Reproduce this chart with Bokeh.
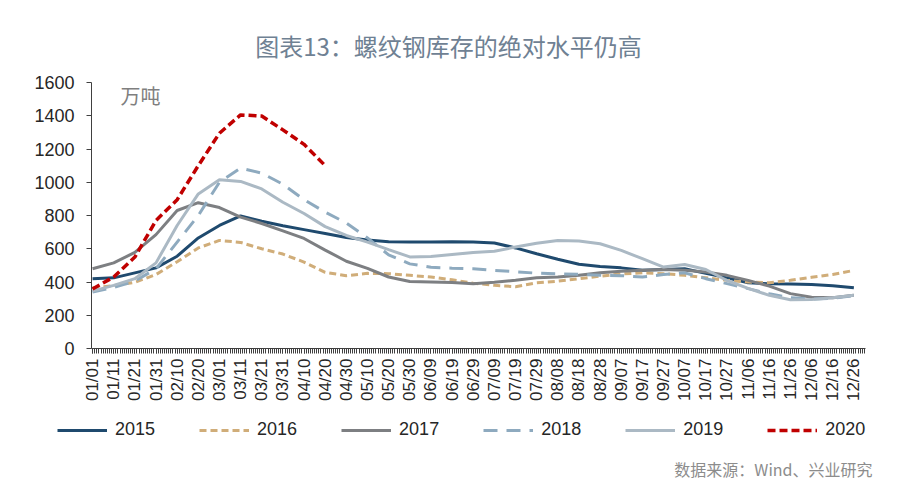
import math
from bokeh.plotting import figure
from bokeh.models import Range1d, FixedTicker, Label, Legend, LegendItem
from bokeh.embed import file_html
from bokeh.resources import INLINE

# x positions: day of year (leap-year calendar), labels every 10 days
days = list(range(0, 361, 10))
tick_labels = ["01/01", "01/11", "01/21", "01/31", "02/10", "02/20", "03/01", "03/11",
               "03/21", "03/31", "04/10", "04/20", "04/30", "05/10", "05/20", "05/30",
               "06/09", "06/19", "06/29", "07/09", "07/19", "07/29", "08/08", "08/18",
               "08/28", "09/07", "09/17", "09/27", "10/07", "10/17", "10/27", "11/06",
               "11/16", "11/26", "12/06", "12/16", "12/26"]

s2015 = [420, 425, 455, 485, 555, 665, 740, 798, 765, 738, 715, 692, 668, 652, 642, 640,
         640, 642, 640, 635, 605, 570, 537, 507, 493, 485, 470, 475, 480, 452, 425, 395,
         390, 388, 385, 378, 365]
s2016 = [365, 378, 398, 445, 522, 605, 650, 638, 600, 568, 520, 458, 438, 452, 450, 440,
         430, 413, 393, 380, 372, 395, 405, 420, 435, 448, 455, 450, 440, 425, 410, 400,
         395, 410, 428, 445, 470]
s2017 = [480, 515, 578, 685, 830, 877, 848, 790, 752, 708, 662, 592, 525, 482, 430, 403,
         400, 397, 390, 399, 410, 425, 430, 440, 455, 465, 470, 475, 470, 460, 440, 410,
         375, 330, 308, 305, 320]
s2018 = [340, 368, 405, 480, 640, 800, 1000, 1085, 1055, 988, 895, 820, 755, 665, 563, 509,
         489, 483, 480, 470, 462, 453, 449, 446, 440, 438, 430, 445, 455, 420, 390, 360,
         330, 305, 298, 302, 318]
s2019 = [345, 380, 420, 515, 740, 930, 1015, 1005, 960, 880, 812, 733, 680, 640, 595, 551,
         553, 565, 577, 585, 610, 633, 650, 646, 630, 590, 540, 490, 505, 475, 409, 362,
         320, 293, 295, 305, 320]
s2020 = [358, 430, 550, 770, 895, 1100, 1295, 1405, 1398, 1315, 1228, 1100]

years = ["2015", "2016", "2017", "2018", "2019", "2020"]
series = [s2015, s2016, s2017, s2018, s2019, s2020]
colors = ["#1f4a6e", "#d0ad79", "#7d7f82", "#8eaabf", "#abb9c4", "#c00000"]
dashes = ["solid", "7 4", "solid", "14 9", "solid", "8 4"]
widths = [3, 3, 3, 3, 3, 3.5]

y_ticks = list(range(0, 1601, 200))

W, H = 900, 493
# plot area in page pixels: x 91..865 (days -0.5..365.5), y 82..348 (1600..0)
px_day = (865 - 91) / 366.0
px_val = (348 - 82) / 1600.0
x0 = -0.5 - 91 / px_day
x1 = 365.5 + (W - 865) / px_day
y1 = 1600 + 82 / px_val
y0 = -(H - 348) / px_val

p = figure(width=W, height=H, output_backend="svg", toolbar_location=None,
           x_range=Range1d(x0, x1), y_range=Range1d(y0, y1),
           min_border_left=0, min_border_right=0, min_border_top=0, min_border_bottom=0)
p.xgrid.visible = False
p.ygrid.visible = False
p.outline_line_color = None
p.background_fill_color = "white"
p.border_fill_color = "white"

axis_color = "#404040"
p.xaxis.fixed_location = 0
p.xaxis.bounds = (-0.5, 365.5)
p.xaxis.ticker = FixedTicker(ticks=days, minor_ticks=list(range(0, 366)))
p.xaxis.major_label_overrides = {d: t for d, t in zip(days, tick_labels)}
p.xaxis.major_label_orientation = math.pi / 2
p.xaxis.major_label_text_font = "Liberation Sans"
p.xaxis.major_label_text_font_size = "17px"
p.xaxis.major_label_text_color = "#262626"
p.xaxis.major_label_standoff = 5
p.xaxis.axis_line_color = axis_color
p.xaxis.major_tick_line_color = axis_color
p.xaxis.minor_tick_line_color = axis_color
p.xaxis.major_tick_in = 0
p.xaxis.major_tick_out = 5
p.xaxis.minor_tick_in = 0
p.xaxis.minor_tick_out = 5

p.yaxis.fixed_location = -0.5
p.yaxis.bounds = (0, 1600)
p.yaxis.ticker = FixedTicker(ticks=y_ticks)
p.yaxis.major_label_text_font = "Liberation Sans"
p.yaxis.major_label_text_font_size = "18px"
p.yaxis.major_label_text_color = "#262626"
p.yaxis.major_label_standoff = 12
p.yaxis.axis_line_color = axis_color
p.yaxis.major_tick_line_color = axis_color
p.yaxis.minor_tick_line_color = None
p.yaxis.major_tick_in = 0
p.yaxis.major_tick_out = 5

renderers = []
for vals, c, d, w in zip(series, colors, dashes, widths):
    renderers.append(p.line(days[:len(vals)], vals, line_color=c, line_width=w, line_dash=d))

legend = Legend(items=[LegendItem(label=yr, renderers=[r]) for yr, r in zip(years, renderers)],
                orientation="horizontal", location=(57, 53),
                glyph_width=50, glyph_height=16, label_standoff=8, spacing=44,
                padding=0, margin=0, border_line_color=None, background_fill_alpha=0,
                label_text_font="Liberation Sans", label_text_font_size="18px",
                label_text_color="#262626")
p.add_layout(legend)

p.add_layout(Label(x=448, y=H - 45, x_units="screen", y_units="screen",
                   text="图表13：螺纹钢库存的绝对水平仍高", text_align="center",
                   text_baseline="middle", text_font="Noto Sans CJK SC",
                   text_font_size="24px", text_color="#6f8193"))
p.add_layout(Label(x=120, y=H - 95, x_units="screen", y_units="screen",
                   text="万吨", text_align="left", text_baseline="middle",
                   text_font="Noto Sans CJK SC", text_font_size="20px",
                   text_color="#7f7f7f"))
p.add_layout(Label(x=872, y=H - 468, x_units="screen", y_units="screen",
                   text="数据来源：Wind、兴业研究", text_align="right",
                   text_baseline="middle", text_font="Noto Sans CJK SC",
                   text_font_size="16px", text_color="#8c8c8c"))

open("out.html", "w").write(file_html(p, INLINE))
